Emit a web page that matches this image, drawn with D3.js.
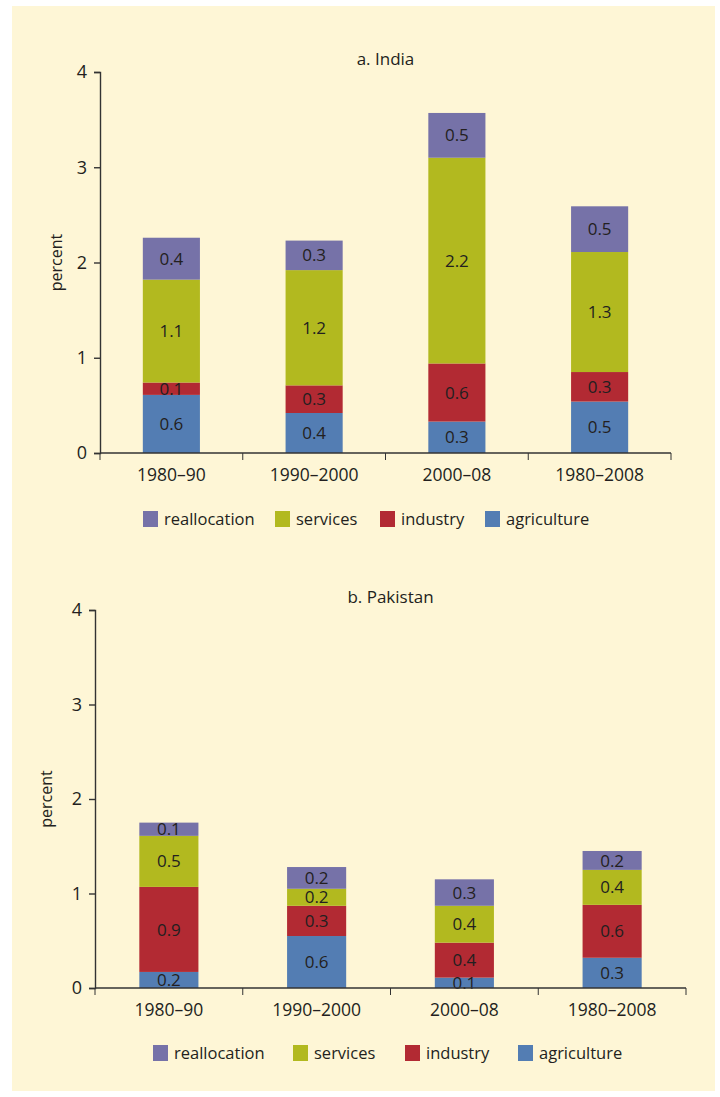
<!DOCTYPE html>
<html>
<head>
<meta charset="utf-8">
<script src="https://cdn.jsdelivr.net/npm/d3@7"></script>
<style>
  body { margin: 0; background: #fff; }
  svg text { font-family: "Open Sans", "Noto Sans", sans-serif; fill: #231f20; }
</style>
</head>
<body>
<div id="chart"></div>
<script>
// periods on the x axis
const periods = ["1980–90", "1990–2000", "2000–08", "1980–2008"];
const seriesNames = ["agriculture", "industry", "services", "reallocation"];
const legendOrder = ["reallocation", "services", "industry", "agriculture"];
const yTicks = [0, 1, 2, 3, 4];

// a. India (percent)
const indiaAgriculture = [0.61, 0.42, 0.33, 0.54];
const indiaIndustry = [0.13, 0.29, 0.61, 0.31];
const indiaServices = [1.08, 1.21, 2.16, 1.26];
const indiaReallocation = [0.44, 0.31, 0.47, 0.48];

// b. Pakistan (percent)
const pakAgriculture = [0.17, 0.55, 0.11, 0.32];
const pakIndustry = [0.9, 0.32, 0.37, 0.56];
const pakServices = [0.54, 0.18, 0.39, 0.37];
const pakReallocation = [0.14, 0.23, 0.28, 0.2];

const colors = {
  agriculture: "#537db3",
  industry: "#b22a33",
  services: "#b2b91f",
  reallocation: "#7672a8"
};

const W = 720, H = 1097;
const svg = d3.select("#chart").append("svg").attr("width", W).attr("height", H);

// cream background panel
svg.append("rect").attr("x", 12).attr("y", 6).attr("width", 703).attr("height", 1085)
  .attr("fill", "#fef6d6");

function buildRows(agri, ind, serv, realloc) {
  return periods.map((p, i) => ({
    period: p,
    agriculture: agri[i],
    industry: ind[i],
    services: serv[i],
    reallocation: realloc[i]
  }));
}

function drawPanel(opt) {
  const rows = buildRows(...opt.series);
  const g = svg.append("g");

  const y = d3.scaleLinear().domain([0, 4]).range([opt.y0, opt.y4]);
  const x = d3.scaleBand().domain(periods).range([opt.x0, opt.x1]).padding(0);
  const bw = x.bandwidth() * 0.4;

  const stacked = d3.stack().keys(seriesNames)(rows);

  const layer = g.selectAll(".layer").data(stacked).enter().append("g")
    .attr("fill", (d) => colors[d.key]);

  layer.selectAll("rect").data((d) => d).enter().append("rect")
    .attr("x", (d) => x(d.data.period) + (x.bandwidth() - bw) / 2)
    .attr("width", bw)
    .attr("y", (d) => y(d[1]))
    .attr("height", (d) => y(d[0]) - y(d[1]));

  // value labels
  stacked.forEach((s) => {
    g.selectAll(null).data(s).enter().append("text")
      .attr("x", (d) => x(d.data.period) + x.bandwidth() / 2)
      .attr("y", (d) => (y(d[0]) + y(d[1])) / 2)
      .attr("dy", "0.36em")
      .attr("text-anchor", "middle")
      .style("font-size", "17px")
      .text((d) => (d[1] - d[0]).toFixed(1));
  });

  // y axis
  const yAxis = g.append("g").attr("transform", `translate(${opt.x0},0)`)
    .call(d3.axisLeft(y).tickValues(yTicks).tickSize(6).tickPadding(7).tickFormat(d3.format("d")));
  yAxis.selectAll("text").style("font-size", "18px");

  // x axis with ticks at band edges
  const xAxis = g.append("g").attr("transform", `translate(0,${opt.y0})`)
    .call(d3.axisBottom(x).tickSize(0).tickPadding(16));
  xAxis.selectAll("text").style("font-size", "17.5px");
  xAxis.selectAll(".domain").attr("d", `M${opt.x0},0H${opt.x1}`);
  const edges = periods.map((p) => x(p)).concat([opt.x1]);
  xAxis.selectAll(".edge").data(edges).enter().append("line")
    .attr("x1", (d) => d).attr("x2", (d) => d)
    .attr("y1", 0).attr("y2", 7)
    .attr("stroke", "#333");

  g.selectAll(".domain, .tick line").attr("stroke", "#333").attr("stroke-width", 1.4);

  // title and axis label
  g.append("text").attr("x", (opt.x0 + opt.x1) / 2).attr("y", opt.y4 - 7)
    .attr("text-anchor", "middle").style("font-size", "17px").text(opt.title);
  g.append("text")
    .attr("transform", `translate(${opt.labelX},${y(2)}) rotate(-90)`)
    .attr("text-anchor", "middle").style("font-size", "16px").text("percent");

  // legend
  const leg = g.append("g");
  legendOrder.forEach((k, i) => {
    const lx = opt.legendX[i];
    leg.append("rect").attr("x", lx).attr("y", opt.legendY - 8)
      .attr("width", 15).attr("height", 16).attr("fill", colors[k]);
    leg.append("text").attr("x", lx + 21).attr("y", opt.legendY)
      .attr("dy", "0.36em").style("font-size", "16.5px").text(k);
  });
}

drawPanel({
  title: "a. India",
  series: [indiaAgriculture, indiaIndustry, indiaServices, indiaReallocation],
  x0: 100, x1: 671, y0: 453, y4: 72,
  labelX: 62,
  legendY: 519,
  legendX: [143, 275, 380, 485]
});

drawPanel({
  title: "b. Pakistan",
  series: [pakAgriculture, pakIndustry, pakServices, pakReallocation],
  x0: 95, x1: 686, y0: 988, y4: 610,
  labelX: 52,
  legendY: 1053,
  legendX: [153, 293, 405, 518]
});
</script>
</body>
</html>
